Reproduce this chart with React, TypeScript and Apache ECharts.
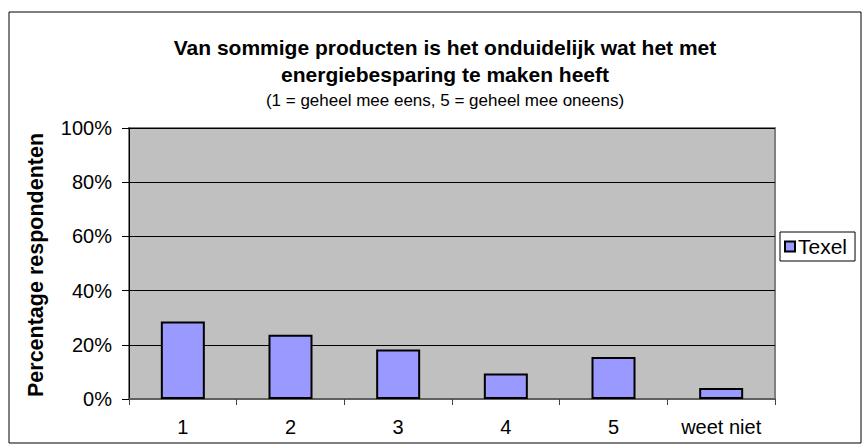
import React, { useEffect, useRef } from "react";
import * as echarts from "echarts";

const categories = ["1", "2", "3", "4", "5", "weet niet"];
const texelValues = [28.6, 23.7, 18.3, 9.4, 15.5, 4.1];
const seriesName = "Texel";
const titleText = "Van sommige producten is het onduidelijk wat het met\nenergiebesparing te maken heeft";
const subTitleText = "(1 = geheel mee eens, 5 = geheel mee oneens)";
const yAxisTitle = "Percentage respondenten";

const FONT = "'Liberation Sans', Arial, sans-serif";

export default function App() {
  const ref = useRef<HTMLDivElement>(null);
  useEffect(() => {
    if (!ref.current) return;
    const chart = echarts.init(ref.current, null, { renderer: "svg" });
    chart.setOption({
      animation: false,
      backgroundColor: "#ffffff",
      textStyle: { fontFamily: FONT },
      title: {
        text: titleText,
        subtext: subTitleText,
        left: 440,
        top: 29,
        textAlign: "center",
        itemGap: 0,
        textStyle: { fontFamily: FONT, fontSize: 21, fontWeight: "bold", color: "#000", lineHeight: 27 },
        subtextStyle: { fontFamily: FONT, fontSize: 17, color: "#000", lineHeight: 24 },
      },
      legend: {
        data: [seriesName],
        left: 780,
        top: 232,
        orient: "vertical",
        borderColor: "#000",
        borderWidth: 1,
        borderRadius: 0,
        padding: [4, 8, 4, 4],
        icon: "rect",
        itemWidth: 10,
        itemHeight: 10,
        itemGap: 4,
        textStyle: { fontFamily: FONT, fontSize: 21, color: "#000", padding: [0, 0, 0, -2] },
      },
      grid: {
        left: 129,
        right: 87,
        top: 128,
        bottom: 45,
        show: true,
        backgroundColor: "#C0C0C0",
        borderColor: "#808080",
        borderWidth: 2,
        containLabel: false,
        outerBoundsMode: "none",
      },
      xAxis: {
        type: "category",
        data: categories,
        axisLine: { show: true, lineStyle: { color: "#606060", width: 2 } },
        axisTick: { show: true, alignWithLabel: false, length: 6, lineStyle: { color: "#404040", width: 1 } },
        axisLabel: { fontFamily: FONT, fontSize: 20, color: "#000", margin: 18 },
        splitLine: { show: false },
      },
      yAxis: {
        type: "value",
        min: 0,
        max: 100,
        interval: 20,
        axisLine: { show: true, lineStyle: { color: "#000", width: 1 } },
        axisTick: { show: true, length: 7, lineStyle: { color: "#000" } },
        axisLabel: { fontFamily: FONT, fontSize: 20, color: "#000", margin: 17, formatter: "{value}%" },
        splitLine: { show: true, lineStyle: { color: "#000", width: 1 } },
      },
      series: [
        {
          name: seriesName,
          type: "bar",
          data: texelValues,
          barWidth: 44,
          itemStyle: { color: "#9999FF", borderColor: "#000", borderWidth: 2 },
        },
      ],
      graphic: [
        {
          type: "rect",
          shape: { x: 9, y: 12, width: 852, height: 431 },
          style: { fill: "none", stroke: "#000", lineWidth: 1 },
          silent: true,
        },
        {
          type: "text",
          x: 36,
          y: 265,
          rotation: Math.PI / 2,
          style: {
            text: yAxisTitle,
            fontFamily: FONT,
            fontSize: 21.5,
            fontWeight: "bold",
            fill: "#000",
            textAlign: "center",
            textVerticalAlign: "middle",
          },
        },
      ],
    });
    return () => chart.dispose();
  }, []);
  return <div ref={ref} style={{ width: 862, height: 444, position: "absolute", left: 0, top: 0 }} />;
}
